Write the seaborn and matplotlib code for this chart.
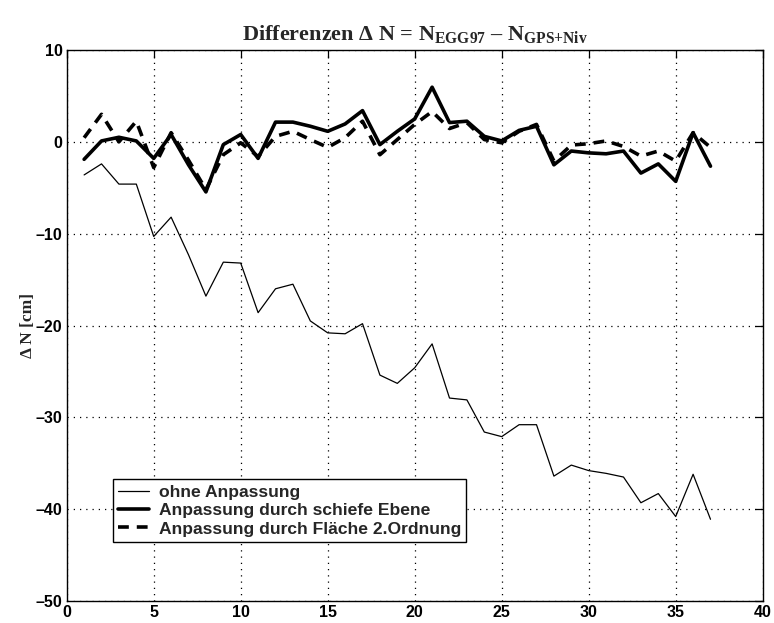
import numpy as np
import pandas as pd
import matplotlib
matplotlib.use("Agg")
import matplotlib.pyplot as plt
import seaborn as sns

# Punktnummern und Differenzen in cm
punkte = list(range(1, 38))
ohne_anpassung = [-3.6, -2.4, -4.6, -4.6, -10.3, -8.2, -12.3, -16.8, -13.1, -13.2,
                  -18.6, -16.0, -15.5, -19.5, -20.8, -20.9, -19.8, -25.4, -26.3, -24.6,
                  -22.0, -27.9, -28.1, -31.6, -32.1, -30.8, -30.8, -36.4, -35.2, -35.8,
                  -36.1, -36.5, -39.3, -38.3, -40.8, -36.2, -41.1]
schiefe_ebene = [-1.9, 0.1, 0.5, 0.1, -1.8, 0.8, -2.5, -5.45, -0.3, 0.8,
                 -1.8, 2.15, 2.15, 1.7, 1.15, 1.95, 3.4, -0.3, 1.15, 2.5,
                 5.95, 2.1, 2.25, 0.6, 0.1, 1.25, 1.7, -2.5, -1.0, -1.2,
                 -1.3, -1.0, -3.4, -2.4, -4.3, 1.0, -2.65]
flaeche_2ord = [0.45, 3.0, 0.0, 2.25, -2.8, 1.0, -2.0, -5.2, -1.4, -0.1,
                -1.6, 0.6, 1.15, 0.25, -0.6, 0.45, 2.25, -1.4, 0.25, 1.9,
                3.3, 1.45, 2.1, 0.25, -0.1, 1.15, 1.9, -2.1, -0.35, -0.2,
                0.1, -0.5, -1.55, -1.0, -2.1, 1.0, -0.6]
labels = ["ohne Anpassung",
          "Anpassung durch schiefe Ebene",
          "Anpassung durch Fläche 2.Ordnung"]

sns.set_theme(style="white")
plt.rcParams["font.family"] = ["Liberation Sans", "DejaVu Sans"]
plt.rcParams["mathtext.fontset"] = "custom"
plt.rcParams["mathtext.rm"] = "Liberation Serif:bold"
plt.rcParams["mathtext.bf"] = "Liberation Serif:bold"
plt.rcParams["mathtext.it"] = "Liberation Serif:bold"

fig = plt.figure(figsize=(7.74, 6.23), dpi=100)
ax = fig.add_axes([0.0862, 0.0353, 0.8992, 0.8844])

styles = [dict(linewidth=0.9, linestyle="-"),
          dict(linewidth=2.6, linestyle="-"),
          dict(linewidth=2.6, linestyle=(0, (3.0, 2.2)))]
for serie, lab, st in zip([ohne_anpassung, schiefe_ebene, flaeche_2ord], labels, styles):
    df = pd.DataFrame({"Punkt": punkte, "dN": serie})
    sns.lineplot(data=df, x="Punkt", y="dN", ax=ax, color="black",
                 label=lab, **st)

ax.set_xlim(0, 40)
ax.set_ylim(-50, 10)
ax.set_xticks(np.arange(0, 41, 5))
ax.set_yticks(np.arange(-50, 11, 10))
ax.set_xticklabels([str(v) for v in range(0, 41, 5)])
ax.set_yticklabels([str(v).replace("-", "\u2013") for v in range(-50, 11, 10)])
ax.grid(True, color="black", linestyle=(0, (1, 4)), linewidth=0.9)
ax.tick_params(direction="in", length=6, width=0.9, top=True, right=True,
               labelsize=11.5, colors="black", pad=3)
for lbl in ax.get_xticklabels() + ax.get_yticklabels():
    lbl.set_fontweight("bold")
for sp in ax.spines.values():
    sp.set_color("black")
    sp.set_linewidth(1.0)

ax.set_xlabel("")
ax.set_ylabel("\u0394 N [cm]", family="Liberation Serif",
              fontweight="bold", fontsize=12.5, labelpad=0)
ax.set_title("Differenzen \u0394 N = N$_{\\mathrm{EGG97}}$ \u2013 N$_{\\mathrm{GPS{+}Niv}}$",
             family="Liberation Serif", fontweight="bold", fontsize=16, pad=7)

leg = ax.legend(loc="lower left", bbox_to_anchor=(0.0665, 0.1075), frameon=True,
                fancybox=False, framealpha=1, edgecolor="black",
                prop={"family": "Liberation Sans", "weight": "bold", "size": 12.6},
                handlelength=1.75, handletextpad=0.55, borderpad=0.3,
                labelspacing=0.18, borderaxespad=0)
leg.get_frame().set_linewidth(1.0)

fig.savefig("out.png", dpi=100)
